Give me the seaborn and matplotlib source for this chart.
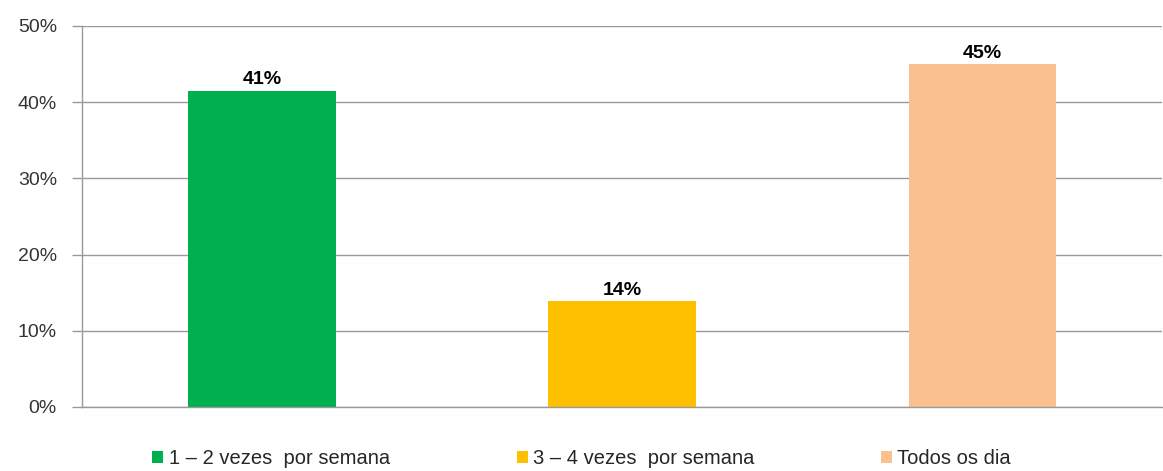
import pandas as pd
import matplotlib.pyplot as plt
import seaborn as sns
from matplotlib.patches import Patch

categorias = ['1 – 2 vezes  por semana', '3 – 4 vezes  por semana', 'Todos os dia']
valores = [0.415, 0.139, 0.45]
rotulos = ['41%', '14%', '45%']
cores = ['#00B050', '#FFC000', '#FAC090']

df = pd.DataFrame({'Cat': categorias, 'Valor': valores})

sns.set_style('white')
plt.rcParams['font.family'] = ['Liberation Sans', 'DejaVu Sans']

fig = plt.figure(figsize=(11.63, 4.71), dpi=100)
ax = fig.add_axes([0.0705, 0.136, 0.929, 0.809])

sns.barplot(data=df, x='Cat', y='Valor', hue='Cat', palette=cores,
            width=0.41, legend=False, ax=ax, saturation=1, linewidth=0)

for i, (v, r) in enumerate(zip(valores, rotulos)):
    ax.text(i, v + 0.003, r, ha='center', va='bottom',
            fontsize=14, fontweight='bold', color='black')

ax.set_ylim(0, 0.5)
ax.set_xlim(-0.5, 2.5)
ax.set_yticks([0, 0.1, 0.2, 0.3, 0.4, 0.5])
ax.set_yticklabels(['0%', '10%', '20%', '30%', '40%', '50%'], fontsize=14, color='#333333')
ax.yaxis.grid(True, color='#999999', linewidth=1)
ax.set_axisbelow(True)
ax.set_xticks([])
ax.set_xlabel('')
ax.set_ylabel('')
ax.tick_params(axis='y', which='both', left=True, direction='out', length=7,
               color='#999999', width=1, pad=11)

for s in ['top', 'right']:
    ax.spines[s].set_visible(False)
ax.spines['left'].set_color('#999999')
ax.spines['bottom'].set_color('#999999')
ax.spines['left'].set_linewidth(1)
ax.spines['bottom'].set_linewidth(1)

handles = [Patch(facecolor=c, edgecolor='none') for c in cores]
fig.legend(handles, categorias, loc='lower center', ncol=3, frameon=False,
           bbox_to_anchor=(0.5, -0.033), fontsize=14.5, handlelength=0.55,
           handleheight=0.55, handletextpad=0.25, columnspacing=6.3)

plt.savefig('out.png', dpi=100)
